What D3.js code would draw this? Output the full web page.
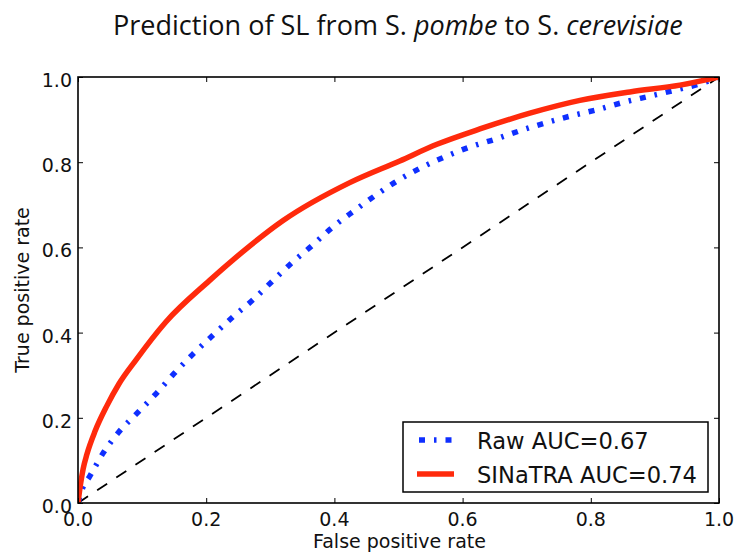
<!DOCTYPE html>
<html>
<head>
<meta charset="utf-8">
<script src="https://cdn.jsdelivr.net/npm/d3@7/dist/d3.min.js"></script>
<style>
  html, body { margin: 0; padding: 0; background: #fff; }
  svg { display: block; }
</style>
</head>
<body>
<svg id="chart" width="739" height="559"></svg>
<script>
// ---- data ----
const xTicks = [0, 0.2, 0.4, 0.6, 0.8, 1.0];
const yTicks = [0, 0.2, 0.4, 0.6, 0.8, 1.0];
const tickLabels = ["0.0", "0.2", "0.4", "0.6", "0.8", "1.0"];

const sinatraFPR = [0, 0.004, 0.008, 0.014, 0.027, 0.045, 0.064, 0.09, 0.137, 0.205, 0.262, 0.32, 0.424, 0.502, 0.56, 0.627, 0.705, 0.783, 0.861, 0.939, 1.0];
const sinatraTPR = [0, 0.045, 0.08, 0.115, 0.17, 0.228, 0.28, 0.335, 0.425, 0.522, 0.596, 0.663, 0.752, 0.803, 0.842, 0.878, 0.915, 0.945, 0.965, 0.981, 1.0];

const rawFPR = [0, 0.007, 0.018, 0.04, 0.064, 0.093, 0.122, 0.15, 0.179, 0.21, 0.241, 0.273, 0.304, 0.333, 0.365, 0.396, 0.43, 0.463, 0.497, 0.534, 0.573, 0.612, 0.651, 0.692, 0.731, 0.77, 0.812, 0.852, 0.892, 0.934, 0.975, 1.0];
const rawTPR = [0, 0.034, 0.062, 0.119, 0.167, 0.212, 0.257, 0.304, 0.349, 0.393, 0.436, 0.477, 0.522, 0.563, 0.604, 0.646, 0.685, 0.721, 0.755, 0.786, 0.813, 0.836, 0.854, 0.875, 0.893, 0.909, 0.924, 0.941, 0.955, 0.970, 0.986, 1.0];

const chanceFPR = [0, 1];
const chanceTPR = [0, 1];

const seriesNames = ["Raw AUC=0.67", "SINaTRA AUC=0.74"];
const titleParts = [
  {text: "Prediction of SL from S. ", italic: false},
  {text: "pombe", italic: true},
  {text: " to S. ", italic: false},
  {text: "cerevisiae", italic: true}
];
const xLabel = "False positive rate";
const yLabel = "True positive rate";

// ---- layout ----
const L = 78, R = 719, T = 77, B = 503;
const svg = d3.select("#chart");
const x = d3.scaleLinear().domain([0, 1]).range([L, R]);
const y = d3.scaleLinear().domain([0, 1]).range([B, T]);
const tickFont = "'DejaVu Sans', sans-serif";
const RED = "#ff2a0c", BLUE = "#0f2fff";

svg.append("defs").append("clipPath").attr("id", "clip")
  .append("rect").attr("x", L).attr("y", T).attr("width", R - L).attr("height", B - T);

const line = d3.line().x(d => x(d[0])).y(d => y(d[1]));
const smooth = d3.line().x(d => x(d[0])).y(d => y(d[1])).curve(d3.curveMonotoneX);
const plot = svg.append("g").attr("clip-path", "url(#clip)");

plot.append("path")
  .datum(chanceFPR.map((v, i) => [v, chanceTPR[i]]))
  .attr("d", line).attr("fill", "none")
  .attr("stroke", "#000").attr("stroke-width", 1.8)
  .attr("stroke-dasharray", "12,11");

plot.append("path")
  .datum(rawFPR.map((v, i) => [v, rawTPR[i]]))
  .attr("d", smooth).attr("fill", "none")
  .attr("stroke", BLUE).attr("stroke-width", 5.5)
  .attr("stroke-dasharray", "6,9,2.5,9");

plot.append("path")
  .datum(sinatraFPR.map((v, i) => [v, sinatraTPR[i]]))
  .attr("d", smooth).attr("fill", "none")
  .attr("stroke", RED).attr("stroke-width", 5.5)
  .attr("stroke-linejoin", "round");

// axes (ticks inside on all four sides)
const axB = d3.axisBottom(x).tickValues(xTicks).tickSize(-5).tickFormat("");
const axT = d3.axisTop(x).tickValues(xTicks).tickSize(-5).tickFormat("");
const axLf = d3.axisLeft(y).tickValues(yTicks).tickSize(-5).tickFormat("");
const axRt = d3.axisRight(y).tickValues(yTicks).tickSize(-5).tickFormat("");
[[axB, `translate(0,${B})`], [axT, `translate(0,${T})`], [axLf, `translate(${L},0)`], [axRt, `translate(${R},0)`]]
  .forEach(([ax, tr]) => {
    const g = svg.append("g").attr("transform", tr).call(ax);
    g.select(".domain").remove();
    g.selectAll(".tick line").attr("stroke", "#000").attr("stroke-width", 1);
  });

// frame
svg.append("rect").attr("x", L).attr("y", T).attr("width", R - L).attr("height", B - T)
  .attr("fill", "none").attr("stroke", "#000").attr("stroke-width", 1.6);

// tick labels
svg.append("g").selectAll("text").data(xTicks).join("text")
  .attr("x", d => x(d)).attr("y", 526)
  .attr("text-anchor", "middle").attr("font-family", tickFont).attr("font-size", 19)
  .attr("fill", "#111").text((d, i) => tickLabels[i]);
svg.append("g").selectAll("text").data(yTicks).join("text")
  .attr("x", 72).attr("y", d => y(d) + 10)
  .attr("text-anchor", "end").attr("font-family", tickFont).attr("font-size", 19)
  .attr("fill", "#111").text((d, i) => tickLabels[i]);

// axis labels
svg.append("text").attr("x", (L + R) / 2 + 1).attr("y", 548)
  .attr("text-anchor", "middle").attr("font-family", tickFont).attr("font-size", 19)
  .attr("fill", "#111").text(xLabel);
svg.append("text").attr("transform", `translate(29,${(T + B) / 2}) rotate(-90)`)
  .attr("text-anchor", "middle").attr("font-family", tickFont).attr("font-size", 19)
  .attr("fill", "#111").text(yLabel);

// title
const titleG = svg.append("g");
const title = titleG.append("text").attr("x", 0).attr("y", 0)
  .attr("font-family", "'Open Sans', 'Noto Sans', sans-serif").attr("font-size", 28)
  .attr("fill", "#111");
titleParts.forEach(p => {
  title.append("tspan").attr("font-style", p.italic ? "italic" : "normal").text(p.text);
});
const tw = title.node().getComputedTextLength();
const targetW = 570;
const sx = targetW / tw;
titleG.attr("transform", `translate(${398 - targetW / 2},34.5) scale(${sx},1)`);

// legend
const leg = svg.append("g");
leg.append("rect").attr("x", 403).attr("y", 422).attr("width", 305).attr("height", 70)
  .attr("fill", "#fff").attr("stroke", "#000").attr("stroke-width", 1.5);
const legItems = [
  {name: seriesNames[0], color: BLUE, dash: "6,9,2.5,9", cy: 440},
  {name: seriesNames[1], color: RED, dash: null, cy: 474}
];
legItems.forEach(it => {
  const ln = leg.append("line").attr("x1", 417).attr("x2", 454)
    .attr("y1", it.cy).attr("y2", it.cy)
    .attr("stroke", it.color).attr("stroke-width", 5.5);
  if (it.dash) ln.attr("stroke-dasharray", it.dash).attr("stroke-dashoffset", -2);
  leg.append("text").attr("x", 477).attr("y", it.cy + 8.5)
    .attr("font-family", tickFont).attr("font-size", 22.6).attr("fill", "#111")
    .text(it.name);
});
</script>
</body>
</html>
